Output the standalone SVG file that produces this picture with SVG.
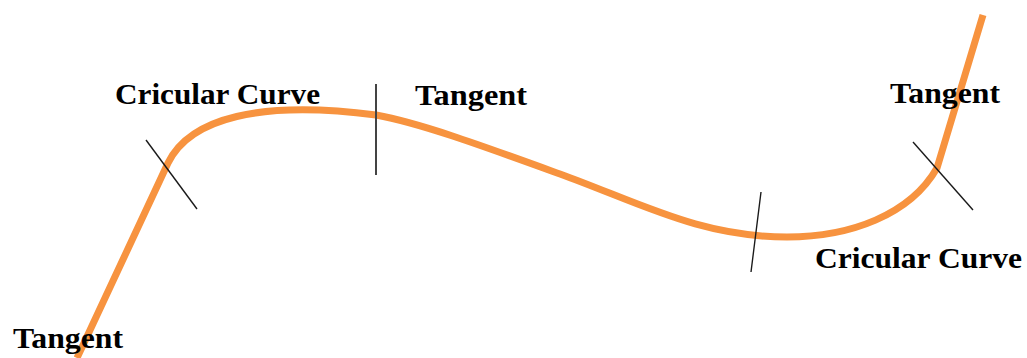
<svg xmlns="http://www.w3.org/2000/svg" width="1027" height="358" viewBox="0 0 1027 358">
<style>
.road{fill:none;stroke:#F7933F;stroke-width:7;stroke-linecap:butt;stroke-linejoin:round}
.tick{stroke:#1a1a1a;stroke-width:1.4;fill:none}
.lbl{font-family:"Liberation Serif","Times New Roman",serif;font-weight:bold;font-size:29px;fill:#000}
</style>
<rect width="1027" height="358" fill="#fff"/>
<g id="road">
<path class="road" d="M77,358 L168,163 C190,118 260,100 376,115 C420,123 480,145 560,174 C640,203 700,237 787,237 C850,237 910,215 937,168 L983,15"/>
</g>
<g id="ticks">
<line class="tick" x1="146" y1="140" x2="197" y2="209"/>
<line class="tick" x1="376" y1="84" x2="376" y2="175" style="stroke:#444;stroke-width:2"/>
<line class="tick" x1="761" y1="192" x2="751" y2="272"/>
<line class="tick" x1="913" y1="142" x2="973" y2="210"/>
</g>
<g id="labels">
<text class="lbl" x="115" y="104" textLength="205" lengthAdjust="spacingAndGlyphs">Cricular Curve</text>
<text class="lbl" x="415" y="105" textLength="112" lengthAdjust="spacingAndGlyphs">Tangent</text>
<text class="lbl" x="890" y="103" textLength="110" lengthAdjust="spacingAndGlyphs">Tangent</text>
<text class="lbl" x="815" y="268" textLength="207" lengthAdjust="spacingAndGlyphs">Cricular Curve</text>
<text class="lbl" x="13" y="348" textLength="110" lengthAdjust="spacingAndGlyphs">Tangent</text>
</g>
</svg>
